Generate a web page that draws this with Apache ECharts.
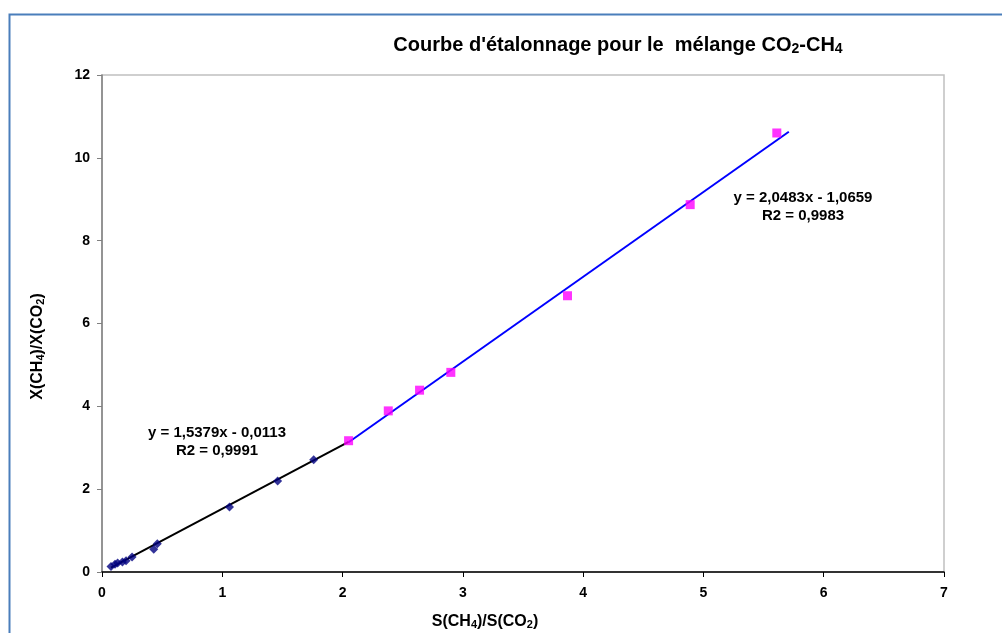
<!DOCTYPE html>
<html>
<head>
<meta charset="utf-8">
<script src="https://cdn.jsdelivr.net/npm/echarts@6/dist/echarts.min.js"></script>
<style>
html,body{margin:0;padding:0;background:#fff;}
#chart{width:1002px;height:633px;}
</style>
</head>
<body>
<div id="chart"></div>
<script>
// Calibration points, low range (navy diamonds)
var lowX = [0.075, 0.108, 0.13, 0.17, 0.2, 0.25, 0.43, 0.46, 1.06, 1.46, 1.76];
var lowY = [0.13, 0.19, 0.22, 0.24, 0.27, 0.36, 0.55, 0.68, 1.57, 2.2, 2.71];
// Calibration points, high range (magenta squares)
var highX = [2.05, 2.38, 2.64, 2.9, 3.87, 4.89, 5.61];
var highY = [3.17, 3.89, 4.39, 4.82, 6.67, 8.87, 10.6];
// Linear trendlines (slope, intercept, x-extent)
var lowFit = {slope: 1.5379, intercept: -0.0113, xFrom: 0.075, xTo: 2.05};
var highFit = {slope: 2.0483, intercept: -1.0659, xFrom: 2.05, xTo: 5.71};
var lowEq = ['y = 1,5379x - 0,0113', 'R2 = 0,9991'];
var highEq = ['y = 2,0483x - 1,0659', 'R2 = 0,9983'];
var xTicks = [0, 1, 2, 3, 4, 5, 6, 7];
var yTicks = [0, 2, 4, 6, 8, 10, 12];

function pairs(xs, ys) { return xs.map(function (x, i) { return [x, ys[i]]; }); }
function fitLine(f) {
  return [[f.xFrom, f.slope * f.xFrom + f.intercept], [f.xTo, f.slope * f.xTo + f.intercept]];
}

var FONT = 'Liberation Sans, Arial, sans-serif';
var chart = echarts.init(document.getElementById('chart'), null, {renderer: 'canvas'});

var subRich = function (size) {
  return {
    m: {fontFamily: FONT, fontWeight: 'bold', fontSize: size, color: '#000', padding: [0, 0, Math.round(size * 0.38), 0]},
    s: {fontFamily: FONT, fontWeight: 'bold', fontSize: Math.round(size * 0.68), color: '#000'}
  };
};

chart.setOption({
  animation: false,
  backgroundColor: '#fff',
  title: {
    text: '{m|Courbe d\'étalonnage pour le  mélange CO}{s|2}{m|-CH}{s|4}',
    left: 613, top: 30, textAlign: 'center',
    textStyle: {rich: subRich(20)}
  },
  grid: {left: 102, right: 58, top: 75, bottom: 61, containLabel: false, outerBoundsMode: 'none',
    show: true, borderColor: '#c0c0c0', borderWidth: 1.5, backgroundColor: 'transparent'},
  xAxis: {
    type: 'value', min: 0, max: 7, interval: 1,
    name: '{m|S(CH}{s|4}{m|)/S(CO}{s|2}{m|)}',
    nameLocation: 'middle', nameGap: 42,
    nameTextStyle: {rich: subRich(16), padding: [0, 76, 0, 0]},
    axisLine: {show: true, onZero: false, lineStyle: {color: '#000', width: 1.5}},
    axisTick: {show: true, length: 5, lineStyle: {color: '#000'}},
    axisLabel: {fontFamily: FONT, fontWeight: 'bold', fontSize: 14, color: '#000', margin: 14},
    splitLine: {show: false}
  },
  yAxis: {
    type: 'value', min: 0, max: 12, interval: 2,
    name: '{m|X(CH}{s|4}{m|)/X(CO}{s|2}{m|)}',
    nameLocation: 'middle', nameGap: 50, nameRotate: 90,
    nameTextStyle: {rich: subRich(16), padding: [0, 46, 0, 0]},
    axisLine: {show: true, onZero: false, lineStyle: {color: '#808080', width: 1.5}},
    axisTick: {show: true, length: 5, lineStyle: {color: '#808080'}},
    axisLabel: {fontFamily: FONT, fontWeight: 'bold', fontSize: 14, color: '#000', margin: 12},
    splitLine: {show: false}
  },
  series: [
    {type: 'line', data: fitLine(lowFit), symbol: 'none', lineStyle: {color: '#000', width: 2}, z: 2},
    {type: 'line', data: fitLine(highFit), symbol: 'none', lineStyle: {color: '#0000ff', width: 2}, z: 2},
    {type: 'scatter', data: pairs(lowX, lowY), symbol: 'diamond', symbolSize: 9, itemStyle: {color: '#000080'}, z: 3},
    {type: 'scatter', data: pairs(highX, highY), symbol: 'rect', symbolSize: 9, itemStyle: {color: '#ff00ff'}, z: 3}
  ],
  graphic: [
    {type: 'rect', left: 7, top: 12, shape: {width: 1200, height: 800}, style: {fill: 'none', stroke: '#4a7ebb', lineWidth: 2}, silent: true},
    {type: 'text', x: 217, y: 424, style: {text: lowEq.join('\n'), fontFamily: FONT, fontWeight: 'bold', fontSize: 15, fill: '#000', align: 'center', lineHeight: 18}},
    {type: 'text', x: 803, y: 189, style: {text: highEq.join('\n'), fontFamily: FONT, fontWeight: 'bold', fontSize: 15, fill: '#000', align: 'center', lineHeight: 18}}
  ]
});
</script>
</body>
</html>
